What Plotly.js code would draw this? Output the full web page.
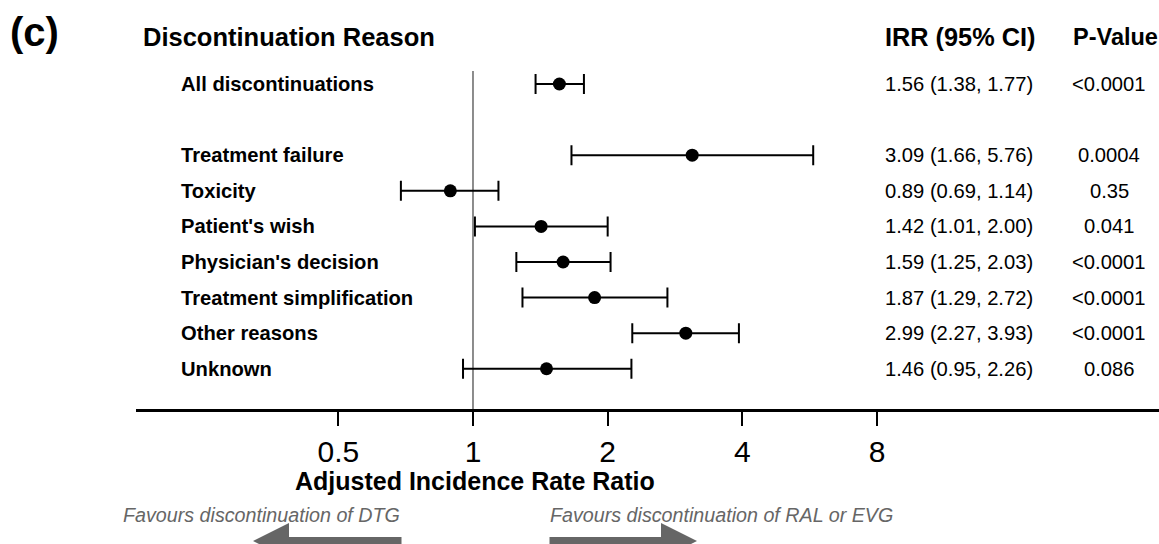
<!DOCTYPE html>
<html>
<head>
<meta charset="utf-8">
<script src="https://cdn.plot.ly/plotly-3.0.1.min.js"></script>
<style>
html,body{margin:0;padding:0;background:#fff;}
#chart{width:1159px;height:544px;}
</style>
</head>
<body>
<div id="chart"></div>
<script>
// ---- data ----
const categories = ["All discontinuations", "Treatment failure", "Toxicity", "Patient's wish",
  "Physician's decision", "Treatment simplification", "Other reasons", "Unknown"];
const rows = [0, 2, 3, 4, 5, 6, 7, 8];
const irr = [1.56, 3.09, 0.89, 1.42, 1.59, 1.87, 2.99, 1.46];
const ciLow = [1.38, 1.66, 0.69, 1.01, 1.25, 1.29, 2.27, 0.95];
const ciHigh = [1.77, 5.76, 1.14, 2.00, 2.03, 2.72, 3.93, 2.26];
const pValues = ["<0.0001", "0.0004", "0.35", "0.041", "<0.0001", "<0.0001", "<0.0001", "0.086"];
const tickValues = [0.5, 1, 2, 4, 8];
const tickLabels = ["0.5", "1", "2", "4", "8"];

// ---- layout helpers (pixel -> paper) ----
const W = 1159, H = 544;
const M = {l: 136, r: 0, t: 60, b: 135};
const pw = W - M.l - M.r, ph = H - M.t - M.b;
const px = x => (x - M.l) / pw;
const py = y => (H - M.b - y) / ph;

const SANS = "Liberation Sans, Arial, Helvetica, sans-serif";
const BODY = 20.2;

const trace = {
  type: 'scatter',
  mode: 'markers',
  x: irr,
  y: rows,
  marker: {color: '#000', size: 13, symbol: 'circle'},
  error_x: {
    type: 'data', symmetric: false,
    array: irr.map((v, i) => ciHigh[i] - v),
    arrayminus: irr.map((v, i) => v - ciLow[i]),
    color: '#000', thickness: 2, width: 10
  },
  hoverinfo: 'skip',
  showlegend: false
};

const annotations = [];
// row labels, IRR text, p-values
categories.forEach((c, i) => {
  annotations.push({xref: 'paper', yref: 'y', x: px(179), y: rows[i], xanchor: 'left', yanchor: 'middle',
    text: '<b>' + c + '</b>', showarrow: false, font: {family: SANS, size: BODY, color: '#000'}});
  annotations.push({xref: 'paper', yref: 'y', x: px(883), y: rows[i], xanchor: 'left', yanchor: 'middle',
    text: irr[i].toFixed(2) + ' (' + ciLow[i].toFixed(2) + ', ' + ciHigh[i].toFixed(2) + ')',
    showarrow: false, font: {family: SANS, size: BODY, color: '#000'}});
  annotations.push({xref: 'paper', yref: 'y', x: px(1109), y: rows[i], xanchor: 'center', yanchor: 'middle',
    text: pValues[i], showarrow: false, font: {family: SANS, size: BODY, color: '#000'}});
});
// headers
annotations.push({xref: 'paper', yref: 'paper', x: px(8), y: py(32), xanchor: 'left', yanchor: 'middle',
  text: '<b>(c)</b>', showarrow: false, font: {family: SANS, size: 40, color: '#000'}});
annotations.push({xref: 'paper', yref: 'paper', x: px(141), y: py(37), xanchor: 'left', yanchor: 'middle',
  text: '<b>Discontinuation Reason</b>', showarrow: false, font: {family: SANS, size: 25.5, color: '#000'}});
annotations.push({xref: 'paper', yref: 'paper', x: px(883), y: py(37), xanchor: 'left', yanchor: 'middle',
  text: '<b>IRR (95% CI)</b>', showarrow: false, font: {family: SANS, size: 25.3, color: '#000'}});
annotations.push({xref: 'paper', yref: 'paper', x: px(1115), y: py(37), xanchor: 'center', yanchor: 'middle',
  text: '<b>P-Value</b>', showarrow: false, font: {family: SANS, size: 23.5, color: '#000'}});
// axis title
annotations.push({xref: 'paper', yref: 'paper', x: px(475), y: py(481), xanchor: 'center', yanchor: 'middle',
  text: '<b>Adjusted Incidence Rate Ratio</b>', showarrow: false, font: {family: SANS, size: 25, color: '#000'}});
// favours texts
annotations.push({xref: 'paper', yref: 'paper', x: px(121), y: py(515), xanchor: 'left', yanchor: 'middle',
  text: '<i>Favours discontinuation of DTG</i>', showarrow: false, font: {family: SANS, size: 19.7, color: '#666'}});
annotations.push({xref: 'paper', yref: 'paper', x: px(548), y: py(515), xanchor: 'left', yanchor: 'middle',
  text: '<i>Favours discontinuation of RAL or EVG</i>', showarrow: false, font: {family: SANS, size: 19.7, color: '#666'}});
// arrows
annotations.push({xref: 'paper', yref: 'paper', x: px(253), y: py(541), ax: 150, ay: 0,
  axref: 'pixel', ayref: 'pixel', text: '', showarrow: true, arrowhead: 2, arrowsize: 0.9,
  arrowwidth: 8, arrowcolor: '#666', standoff: 0, startstandoff: 0});
annotations.push({xref: 'paper', yref: 'paper', x: px(697), y: py(541), ax: -149, ay: 0,
  axref: 'pixel', ayref: 'pixel', text: '', showarrow: true, arrowhead: 2, arrowsize: 0.9,
  arrowwidth: 8, arrowcolor: '#666', standoff: 0, startstandoff: 0});

const layout = {
  width: W, height: H,
  margin: M,
  paper_bgcolor: '#fff', plot_bgcolor: '#fff',
  showlegend: false,
  xaxis: {
    type: 'log',
    range: [-0.7532, 1.5333],
    tickvals: tickValues, ticktext: tickLabels,
    ticks: 'outside', ticklen: 14, tickwidth: 2, tickcolor: '#000',
    showline: true, linecolor: '#000', linewidth: 2.5,
    showgrid: false, zeroline: false,
    tickfont: {family: SANS, size: 30, color: '#000'},
    ticklabelstandoff: 0,
    fixedrange: true
  },
  yaxis: {
    range: [9.13, -0.674],
    showticklabels: false, showgrid: false, zeroline: false, showline: false, ticks: '',
    fixedrange: true
  },
  shapes: [{
    type: 'line', xref: 'x', yref: 'paper', x0: 1, x1: 1, y0: 0, y1: py(71),
    line: {color: '#808080', width: 1.8}, layer: 'below'
  }],
  annotations: annotations
};

Plotly.newPlot('chart', [trace], layout, {displayModeBar: false, staticPlot: true});
</script>
</body>
</html>
